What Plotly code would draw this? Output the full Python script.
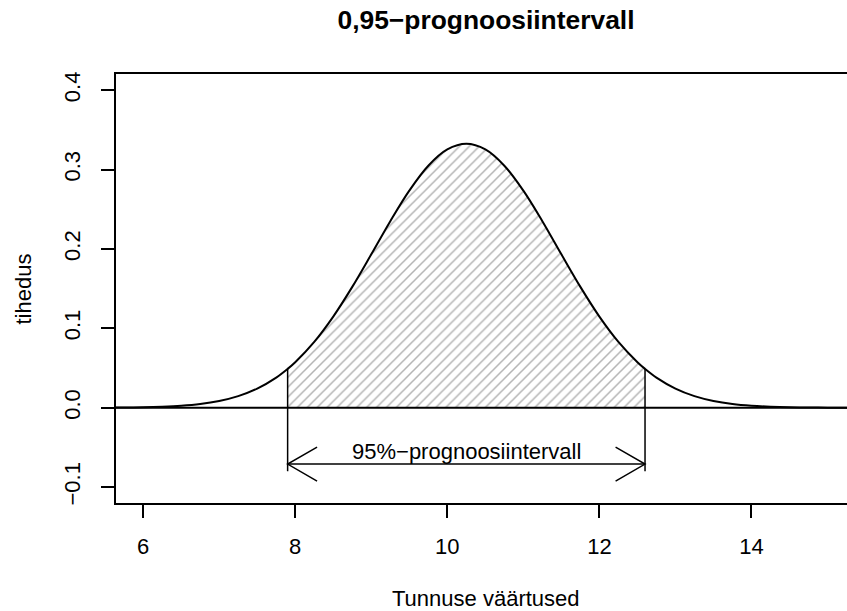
import numpy as np
import plotly.graph_objects as go

# ---- data ----
x_vals = [5.5, 5.75, 6.0, 6.25, 6.5, 6.75, 7.0, 7.25, 7.5, 7.75, 7.9, 8.0, 8.25, 8.5,
          8.75, 9.0, 9.25, 9.5, 9.75, 10.0, 10.25, 10.5, 10.75, 11.0, 11.25, 11.5,
          11.75, 12.0, 12.25, 12.5, 12.6, 12.75, 13.0, 13.25, 13.5, 13.75, 14.0,
          14.25, 14.5, 14.75, 15.0, 15.25, 15.5]
density = [0.0001, 0.0003, 0.0006, 0.0013, 0.0025, 0.0047, 0.0085, 0.0146, 0.0241,
           0.0380, 0.0489, 0.0573, 0.0829, 0.1148, 0.1522, 0.1932, 0.2349, 0.2734,
           0.3048, 0.3253, 0.3324, 0.3253, 0.3048, 0.2734, 0.2349, 0.1932, 0.1522,
           0.1148, 0.0829, 0.0573, 0.0489, 0.0380, 0.0241, 0.0146, 0.0085, 0.0047,
           0.0025, 0.0013, 0.0006, 0.0003, 0.0001, 0.0000, 0.0000]
interval_lo = 7.9
interval_hi = 12.6
interval_label = "95%−prognoosiintervall"
segment_bottom = -0.08
arrow_y = -0.071
label_x = 10.25
label_y = -0.0556
x_ticks = [6, 8, 10, 12, 14]
y_ticks = [-0.1, 0.0, 0.1, 0.2, 0.3, 0.4]
y_tick_text = ["−0.1", "0.0", "0.1", "0.2", "0.3", "0.4"]
title_text = "0,95−prognoosiintervall"
x_title = "Tunnuse väärtused"
y_title = "tihedus"

# ---- layout geometry ----
W, H = 847, 611
ML, MR, MT, MB = 116, 0, 74, 108
x_range = [5.643, 15.256]
y_range = [-0.12, 0.4203]
FONT = "Liberation Sans, Arial, sans-serif"

xa = np.array(x_vals)
ya = np.array(density)
mask = (xa >= interval_lo) & (xa <= interval_hi)

fig = go.Figure()

# hatched area
fig.add_trace(go.Scatter(
    x=xa[mask], y=ya[mask], mode="lines", line=dict(width=0, shape="spline", color="rgba(0,0,0,0)"),
    fill="tozeroy", fillcolor="white",
    fillpattern=dict(shape="/", fgcolor="#6a6a6a", bgcolor="white", size=7, solidity=0.22),
    hoverinfo="skip", showlegend=False))

# density curve
fig.add_trace(go.Scatter(
    x=xa, y=ya, mode="lines", line=dict(color="black", width=2, shape="spline"),
    showlegend=False, hoverinfo="skip"))

# vertical segments at interval ends
y_lo = ya[xa == interval_lo][0]
y_hi = ya[xa == interval_hi][0]
for xv, yv in [(interval_lo, y_lo), (interval_hi, y_hi)]:
    fig.add_trace(go.Scatter(x=[xv, xv], y=[segment_bottom, yv], mode="lines",
                             line=dict(color="black", width=1.5), showlegend=False, hoverinfo="skip"))

# double-headed arrow with open heads (30 degrees, ~34 px)
px_per_x = (W - ML - MR) / (x_range[1] - x_range[0])
px_per_y = (H - MT - MB) / (y_range[1] - y_range[0])
head_len, head_ang = 34, np.deg2rad(30)
hdx = head_len * np.cos(head_ang) / px_per_x
hdy = head_len * np.sin(head_ang) / px_per_y
fig.add_trace(go.Scatter(x=[interval_lo, interval_hi], y=[arrow_y, arrow_y], mode="lines",
                         line=dict(color="black", width=1.5), showlegend=False, hoverinfo="skip"))
for tip, sgn in [(interval_lo, 1), (interval_hi, -1)]:
    fig.add_trace(go.Scatter(x=[tip + sgn * hdx, tip, tip + sgn * hdx],
                             y=[arrow_y + hdy, arrow_y, arrow_y - hdy], mode="lines",
                             line=dict(color="black", width=1.5), showlegend=False, hoverinfo="skip"))

fig.add_annotation(x=label_x, y=label_y, text=interval_label, showarrow=False,
                   xanchor="center", yanchor="middle", font=dict(family=FONT, size=22, color="black"))

# horizontal line at 0
fig.add_shape(type="line", xref="paper", x0=0, x1=1, yref="y", y0=0, y1=0,
              line=dict(color="black", width=2))

# axis titles & title
fig.add_annotation(xref="paper", yref="paper", x=(486 - ML) / (W - ML - MR), y=(H - MB - 598) / (H - MT - MB),
                   text=x_title, showarrow=False, xanchor="center", yanchor="middle",
                   font=dict(family=FONT, size=22, color="black"))
fig.add_annotation(xref="paper", yref="paper", x=(23 - ML) / (W - ML - MR), y=0.5,
                   text=y_title, showarrow=False, xanchor="center", yanchor="middle", textangle=-90,
                   font=dict(family=FONT, size=22, color="black"))

fig.update_layout(
    width=W, height=H, margin=dict(l=ML, r=MR, t=MT, b=MB),
    paper_bgcolor="white", plot_bgcolor="white",
    title=dict(text="<b>" + title_text + "</b>", x=486 / W, xref="container", xanchor="center",
               y=1 - 20 / H, yref="container", yanchor="middle",
               font=dict(family=FONT, size=26.4, color="black")),
    font=dict(family=FONT, size=22, color="black"),
    showlegend=False,
)
fig.update_xaxes(range=x_range, tickvals=x_ticks, ticks="outside", ticklen=13, tickwidth=1.5,
                 tickcolor="black", showline=True, linecolor="black", linewidth=1.6, mirror=True,
                 showgrid=False, zeroline=False, ticklabelstandoff=10,
                 tickfont=dict(family=FONT, size=22, color="black"))
fig.update_yaxes(range=y_range, tickvals=y_ticks, ticktext=y_tick_text, ticks="outside", ticklen=13,
                 tickwidth=1.5, tickcolor="black", showline=True, linecolor="black", linewidth=1.6,
                 mirror=False, showgrid=False, zeroline=False, tickangle=-90, ticklabelstandoff=12,
                 tickfont=dict(family=FONT, size=22, color="black"))

fig.write_html("out.html")
